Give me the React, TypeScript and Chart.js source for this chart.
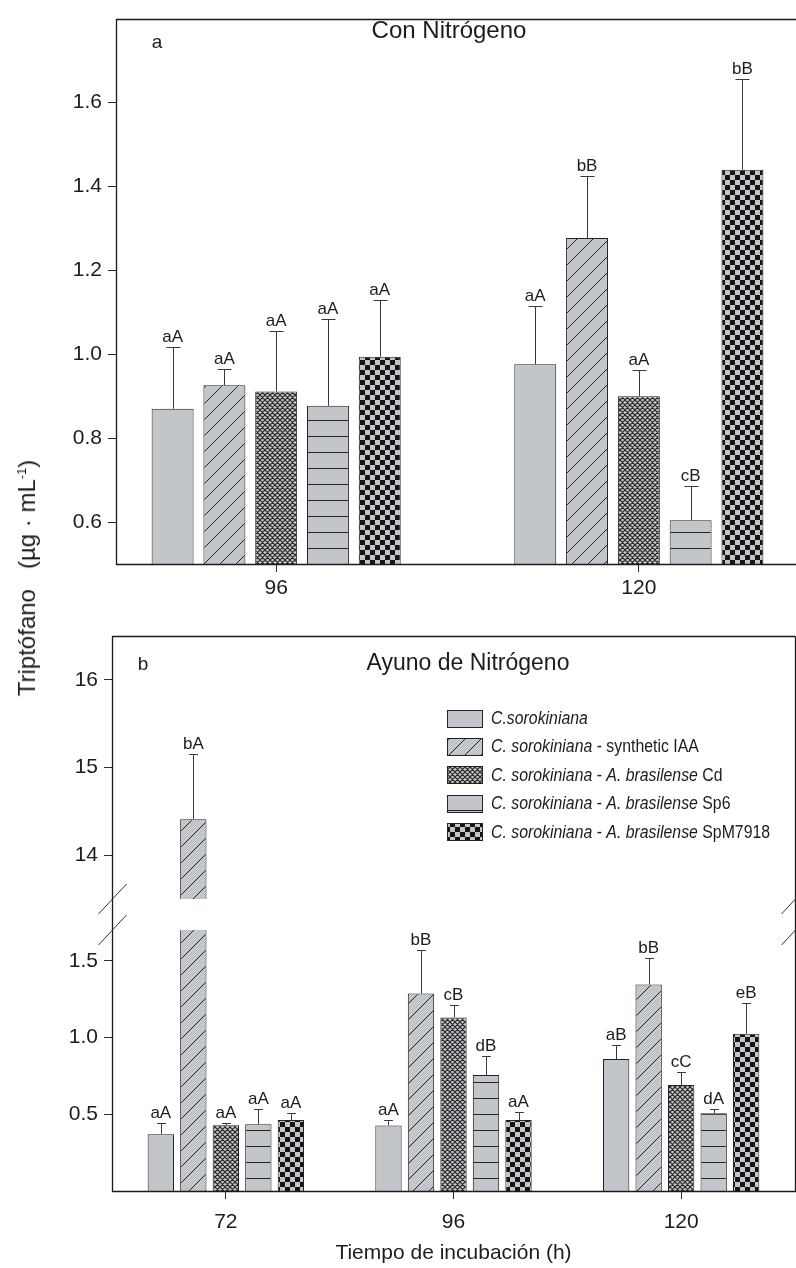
import React, { useEffect, useRef } from 'react';
import { Chart, registerables } from 'chart.js';

Chart.register(...registerables);

const FONT = '"Liberation Sans", Arial, Helvetica, sans-serif';
const INK = '#222222';
const TEXT = '#1c1c1c';
const FILL = '#c2c6cb';

// Treatments, in drawing order (same in both panels)
const treatmentNames = [
  'C.sorokiniana',
  'C. sorokiniana - synthetic IAA',
  'C. sorokiniana - A. brasilense Cd',
  'C. sorokiniana - A. brasilense Sp6',
  'C. sorokiniana - A. brasilense SpM7918',
];

// Legend entries as [text, italic] runs
const legendRuns: [string, boolean][][] = [
  [['C.sorokiniana', true]],
  [['C. sorokiniana', true], [' - synthetic IAA', false]],
  [['C. sorokiniana', true], [' - ', false], ['A. brasilense', true], [' Cd', false]],
  [['C. sorokiniana', true], [' - ', false], ['A. brasilense', true], [' Sp6', false]],
  [['C. sorokiniana', true], [' - ', false], ['A. brasilense', true], [' SpM7918', false]],
];

// ---------- Panel a: Con Nitrógeno (µg·mL-1) ----------
const hoursWithN = [96, 120];
const withN_sorokiniana = [0.87, 0.976];
const withN_sorokinianaErr = [0.148, 0.14];
const withN_sorokinianaSig = ['aA', 'aA'];
const withN_iaa = [0.926, 1.277];
const withN_iaaErr = [0.038, 0.147];
const withN_iaaSig = ['aA', 'bB'];
const withN_cd = [0.911, 0.9];
const withN_cdErr = [0.145, 0.062];
const withN_cdSig = ['aA', 'aA'];
const withN_sp6 = [0.877, 0.604];
const withN_sp6Err = [0.207, 0.082];
const withN_sp6Sig = ['aA', 'cB'];
const withN_spm = [0.994, 1.44];
const withN_spmErr = [0.135, 0.216];
const withN_spmSig = ['aA', 'bB'];
const withNTicks = [0.6, 0.8, 1.0, 1.2, 1.4, 1.6];

// ---------- Panel b: Ayuno de Nitrógeno (µg·mL-1) ----------
const hoursStarved = ['72', '96', '120'];
const starved_sorokiniana = [0.37, 0.427, 0.859];
const starved_sorokinianaErr = [0.071, 0.035, 0.095];
const starved_sorokinianaSig = ['aA', 'aA', 'aB'];
const starved_iaa = [14.41, 1.286, 1.345];
const starved_iaaErr = [0.74, 0.286, 0.175];
const starved_iaaSig = ['bA', 'bB', 'bB'];
const starved_cd = [0.429, 1.13, 0.69];
const starved_cdErr = [0.011, 0.08, 0.082];
const starved_cdSig = ['aA', 'cB', 'cC'];
const starved_sp6 = [0.434, 0.755, 0.507];
const starved_sp6Err = [0.097, 0.123, 0.024];
const starved_sp6Sig = ['aA', 'dB', 'dA'];
const starved_spm = [0.462, 0.462, 1.024];
const starved_spmErr = [0.047, 0.05, 0.201];
const starved_spmSig = ['aA', 'aA', 'eB'];
const starvedLowTicks = [0.5, 1.0, 1.5];
const starvedHighTicks = [14, 15, 16];

// broken value axis of panel b
const LOW_MIN = 0;
const LOW_MAX = 1.7;
const HIGH_MIN = 13.5;
const HIGH_MAX = 16.5;

// ---------- fills ----------
function makeTile(w: number, h: number, draw: (c: CanvasRenderingContext2D) => void) {
  const cv = document.createElement('canvas');
  cv.width = w;
  cv.height = h;
  const c = cv.getContext('2d') as CanvasRenderingContext2D;
  c.fillStyle = FILL;
  c.fillRect(0, 0, w, h);
  draw(c);
  return cv;
}

function makeFills(ctx: CanvasRenderingContext2D, lineRow: number): (string | CanvasPattern)[] {
  const diag = makeTile(16, 16, (c) => {
    c.strokeStyle = INK;
    c.lineWidth = 1;
    c.beginPath();
    for (const o of [-16, 0, 16]) {
      c.moveTo(o, 16);
      c.lineTo(o + 16, 0);
    }
    c.stroke();
  });
  const cross = makeTile(5, 5, (c) => {
    c.strokeStyle = '#262626';
    c.lineWidth = 1.15;
    c.beginPath();
    for (const o of [-5, 0, 5]) {
      c.moveTo(o, 0);
      c.lineTo(o + 5, 5);
      c.moveTo(o, 5);
      c.lineTo(o + 5, 0);
    }
    c.stroke();
  });
  const rows = makeTile(8, 16, (c) => {
    c.fillStyle = INK;
    c.fillRect(0, lineRow, 8, 1);
  });
  const checks = makeTile(10, 10, (c) => {
    c.fillStyle = '#141414';
    c.fillRect(0, 0, 5, 5);
    c.fillRect(5, 5, 5, 5);
  });
  return [
    FILL,
    ctx.createPattern(diag, 'repeat') as CanvasPattern,
    ctx.createPattern(cross, 'repeat') as CanvasPattern,
    ctx.createPattern(rows, 'repeat') as CanvasPattern,
    ctx.createPattern(checks, 'repeat') as CanvasPattern,
  ];
}

// ---------- text helper ----------
function drawText(
  ctx: CanvasRenderingContext2D,
  s: string,
  x: number,
  y: number,
  size: number,
  align: CanvasTextAlign = 'left',
  italic = false,
  squeeze = 1,
  baseline: CanvasTextBaseline = 'middle'
) {
  ctx.save();
  ctx.font = `${italic ? 'italic ' : ''}${size}px ${FONT}`;
  ctx.fillStyle = TEXT;
  ctx.textAlign = align;
  ctx.textBaseline = baseline;
  ctx.translate(x, y);
  ctx.scale(squeeze, 1);
  ctx.fillText(s, 0, 0);
  const w = ctx.measureText(s).width * squeeze;
  ctx.restore();
  return w;
}

// ---------- plugins ----------
// keeps every dataset inside the band of its own value axis (needed for the broken axis)
const clipToOwnAxis = {
  id: 'clipToOwnAxis',
  beforeDatasetDraw(chart: any, args: any) {
    const ys = chart.scales[args.meta.yAxisID];
    const a = chart.chartArea;
    chart.ctx.save();
    chart.ctx.beginPath();
    chart.ctx.rect(a.left, ys.top, a.right - a.left, ys.bottom - ys.top);
    chart.ctx.clip();
  },
  afterDatasetDraw(chart: any) {
    chart.ctx.restore();
  },
};

// upper error whisker and significance letters above each bar
const whiskersAndLetters = {
  id: 'whiskersAndLetters',
  afterDatasetsDraw(chart: any) {
    const ctx = chart.ctx as CanvasRenderingContext2D;
    chart.data.datasets.forEach((ds: any, di: number) => {
      const meta = chart.getDatasetMeta(di);
      const ys = chart.scales[meta.yAxisID];
      meta.data.forEach((bar: any, j: number) => {
        const parsed = meta.controller.getParsed(j);
        const v = parsed ? parsed.y : null;
        if (v == null || Number.isNaN(v) || v > ys.max || v < ys.min) return;
        const err = ds.errorPlus ? ds.errorPlus[j] || 0 : 0;
        const yBar = ys.getPixelForValue(v);
        const yCap = Math.round(ys.getPixelForValue(v + err)) + 0.5;
        const cx = Math.round(bar.x) + 0.5;
        const half = Math.max(4, bar.width * 0.167);
        ctx.save();
        ctx.strokeStyle = '#3a3a3a';
        ctx.lineWidth = 1;
        ctx.beginPath();
        ctx.moveTo(cx, yBar);
        ctx.lineTo(cx, yCap);
        ctx.moveTo(cx - half, yCap);
        ctx.lineTo(cx + half, yCap);
        ctx.stroke();
        ctx.restore();
        const sig = ds.groupLetters ? ds.groupLetters[j] : null;
        if (sig) drawText(ctx, sig, bar.x, yCap - 6, 17, 'center', false, 1, 'alphabetic');
      });
    });
  },
};

function frameLines(ctx: CanvasRenderingContext2D, a: any, right: boolean) {
  ctx.save();
  ctx.strokeStyle = '#1a1a1a';
  ctx.lineWidth = 1.3;
  ctx.beginPath();
  const l = Math.round(a.left) + 0.5;
  const t = Math.round(a.top) + 0.5;
  const b = Math.round(a.bottom) + 0.5;
  const r = Math.round(a.right) + 0.5;
  ctx.moveTo(r, t);
  ctx.lineTo(l, t);
  ctx.lineTo(l, b);
  ctx.lineTo(r, b);
  if (right) ctx.lineTo(r, t);
  ctx.stroke();
  ctx.restore();
}

function breakMarks(ctx: CanvasRenderingContext2D, x: number, ys: number[]) {
  ctx.save();
  ctx.strokeStyle = '#333';
  ctx.lineWidth = 1;
  ctx.beginPath();
  for (const y of ys) {
    ctx.moveTo(x - 14, y + 15);
    ctx.lineTo(x + 14, y - 15);
  }
  ctx.stroke();
  ctx.restore();
}

const tickFont = { family: FONT, size: 21 };

function buildWithN(canvas: HTMLCanvasElement) {
  const ctx = canvas.getContext('2d') as CanvasRenderingContext2D;
  const fills = makeFills(ctx, 4);
  const values = [withN_sorokiniana, withN_iaa, withN_cd, withN_sp6, withN_spm];
  const errs = [withN_sorokinianaErr, withN_iaaErr, withN_cdErr, withN_sp6Err, withN_spmErr];
  const sigs = [withN_sorokinianaSig, withN_iaaSig, withN_cdSig, withN_sp6Sig, withN_spmSig];

  const decor = {
    id: 'decorWithN',
    afterDraw(chart: any) {
      const c = chart.ctx as CanvasRenderingContext2D;
      frameLines(c, chart.chartArea, false);
      drawText(c, 'a', 157, 43, 19, 'center');
      drawText(c, 'Con Nitrógeno', 449, 31, 24, 'center');
    },
  };

  return new Chart(canvas, {
    type: 'bar',
    data: {
      datasets: values.map((vals, i) => ({
        label: treatmentNames[i],
        data: hoursWithN.map((h, j) => ({ x: h, y: vals[j] })),
        backgroundColor: fills[i],
        borderColor: INK,
        borderWidth: 1,
        categoryPercentage: 0.714,
        barPercentage: 0.81,
        errorPlus: errs[i],
        groupLetters: sigs[i],
      })) as any,
    },
    options: {
      animation: false,
      responsive: false,
      devicePixelRatio: 1,
      layout: { padding: { top: 12, right: 0, bottom: 0, left: 0 } },
      plugins: { legend: { display: false }, tooltip: { enabled: false } },
      scales: {
        x: {
          type: 'linear',
          offset: false,
          min: 85.4,
          max: 130.4,
          afterBuildTicks: (s: any) => {
            s.ticks = hoursWithN.map((v) => ({ value: v }));
          },
          afterFit: (s: any) => {
            s.height = 48;
          },
          ticks: { font: tickFont, color: TEXT, padding: 4, callback: (v: any) => String(v) },
          grid: { drawOnChartArea: false, tickLength: 8, color: '#2a2a2a', offset: false },
          border: { display: false },
        },
        y: {
          type: 'linear',
          min: 0.5,
          max: 1.8,
          beginAtZero: false,
          afterBuildTicks: (s: any) => {
            s.ticks = withNTicks.map((v) => ({ value: v }));
          },
          afterFit: (s: any) => {
            s.width = 116;
          },
          ticks: { font: tickFont, color: TEXT, padding: 6, callback: (v: any) => Number(v).toFixed(1) },
          grid: { drawOnChartArea: false, tickLength: 8, color: '#2a2a2a' },
          border: { display: false },
        },
      },
    } as any,
    plugins: [clipToOwnAxis, whiskersAndLetters, decor] as any,
  });
}

function buildStarved(canvas: HTMLCanvasElement) {
  const ctx = canvas.getContext('2d') as CanvasRenderingContext2D;
  const fills = makeFills(ctx, 6);
  const values = [starved_sorokiniana, starved_iaa, starved_cd, starved_sp6, starved_spm];
  const errs = [starved_sorokinianaErr, starved_iaaErr, starved_cdErr, starved_sp6Err, starved_spmErr];
  const sigs = [starved_sorokinianaSig, starved_iaaSig, starved_cdSig, starved_sp6Sig, starved_spmSig];

  const datasets: any[] = values.map((vals, i) => ({
    label: treatmentNames[i],
    data: vals,
    yAxisID: 'y',
    stack: 's' + i,
    backgroundColor: fills[i],
    borderColor: INK,
    borderWidth: 1,
    categoryPercentage: 0.714,
    barPercentage: 0.81,
    errorPlus: errs[i],
    groupLetters: sigs[i],
  }));
  // the part of the synthetic IAA bars that lies above the break
  datasets.push({
    label: treatmentNames[1],
    data: starved_iaa.map((v) => (v > LOW_MAX ? v : null)),
    yAxisID: 'yHigh',
    stack: 's1',
    backgroundColor: fills[1],
    borderColor: INK,
    borderWidth: 1,
    categoryPercentage: 0.714,
    barPercentage: 0.81,
    errorPlus: starved_iaaErr,
    groupLetters: starved_iaaSig,
  });

  const decor = {
    id: 'decorStarved',
    afterDraw(chart: any) {
      const c = chart.ctx as CanvasRenderingContext2D;
      const a = chart.chartArea;
      frameLines(c, a, true);
      const cuts = [chart.scales.yHigh.bottom, chart.scales.y.top];
      breakMarks(c, Math.round(a.left) + 0.5, cuts);
      breakMarks(c, Math.round(a.right) + 0.5, cuts);
      drawText(c, 'b', 143, 53, 19, 'center');
      drawText(c, 'Ayuno de Nitrógeno', 468, 52, 23, 'center');
      // legend
      legendRuns.forEach((runs, i) => {
        const cy = 106 + i * 28.4;
        const sx = 447;
        const sw = 35;
        const sh = 17;
        c.save();
        c.fillStyle = fills[i] as any;
        c.fillRect(sx, Math.round(cy - sh / 2), sw, sh);
        c.strokeStyle = INK;
        c.lineWidth = 1;
        c.strokeRect(sx + 0.5, Math.round(cy - sh / 2) + 0.5, sw, sh);
        c.restore();
        let x = 491;
        for (const [t, it] of runs) {
          x += drawText(c, t, x, cy + 1, 18, 'left', it, 0.88);
        }
      });
      drawText(c, 'Tiempo de incubación (h)', (a.left + a.right) / 2, 641, 21, 'center');
    },
  };

  return new Chart(canvas, {
    type: 'bar',
    data: { labels: hoursStarved, datasets },
    options: {
      animation: false,
      responsive: false,
      devicePixelRatio: 1,
      layout: { padding: { top: 24, right: 1, bottom: 0, left: 0 } },
      plugins: { legend: { display: false }, tooltip: { enabled: false } },
      scales: {
        x: {
          type: 'category',
          offset: true,
          afterFit: (s: any) => {
            s.height = 77;
          },
          ticks: { font: tickFont, color: TEXT, padding: 11 },
          grid: { drawOnChartArea: false, tickLength: 8, color: '#2a2a2a', offset: false },
          border: { display: false },
        },
        y: {
          type: 'linear',
          position: 'left',
          stack: 'value',
          stackWeight: 261,
          stacked: false,
          min: LOW_MIN,
          max: LOW_MAX,
          beginAtZero: false,
          afterBuildTicks: (s: any) => {
            s.ticks = starvedLowTicks.map((v) => ({ value: v }));
          },
          afterFit: (s: any) => {
            s.width = 112;
          },
          ticks: { font: tickFont, color: TEXT, padding: 6, callback: (v: any) => Number(v).toFixed(1) },
          grid: { drawOnChartArea: false, tickLength: 8, color: '#2a2a2a' },
          border: { display: false },
        },
        yGap: {
          type: 'linear',
          position: 'left',
          stack: 'value',
          stackWeight: 31,
          min: 0,
          max: 1,
          afterFit: (s: any) => {
            s.width = 112;
          },
          ticks: { display: false },
          grid: { display: false },
          border: { display: false },
        },
        yHigh: {
          type: 'linear',
          position: 'left',
          stack: 'value',
          stackWeight: 263,
          stacked: false,
          min: HIGH_MIN,
          max: HIGH_MAX,
          beginAtZero: false,
          afterBuildTicks: (s: any) => {
            s.ticks = starvedHighTicks.map((v) => ({ value: v }));
          },
          afterFit: (s: any) => {
            s.width = 112;
          },
          ticks: { font: tickFont, color: TEXT, padding: 6, callback: (v: any) => String(v) },
          grid: { drawOnChartArea: false, tickLength: 8, color: '#2a2a2a' },
          border: { display: false },
        },
      },
    } as any,
    plugins: [clipToOwnAxis, whiskersAndLetters, decor] as any,
  });
}

export default function App() {
  const refA = useRef<HTMLCanvasElement>(null);
  const refB = useRef<HTMLCanvasElement>(null);

  useEffect(() => {
    const a = buildWithN(refA.current as HTMLCanvasElement);
    const b = buildStarved(refB.current as HTMLCanvasElement);
    return () => {
      a.destroy();
      b.destroy();
    };
  }, []);

  return (
    <div
      style={{
        position: 'absolute',
        left: 0,
        top: 0,
        width: 796,
        height: 1268,
        overflow: 'hidden',
        background: '#ffffff',
      }}
    >
      <canvas
        ref={refA}
        width={796}
        height={612}
        style={{ position: 'absolute', left: 0, top: 0, width: 796, height: 612 }}
      />
      <canvas
        ref={refB}
        width={796}
        height={656}
        style={{ position: 'absolute', left: 0, top: 612, width: 796, height: 656 }}
      />
      <div
        style={{
          position: 'absolute',
          left: 27,
          top: 578,
          transform: 'translate(-50%, -50%) rotate(-90deg)',
          whiteSpace: 'nowrap',
          fontFamily: FONT,
          fontSize: 24,
          color: TEXT,
          lineHeight: 1,
        }}
      >
        Triptófano&nbsp;&nbsp;&nbsp;(µg · mL
        <sup style={{ fontSize: 13, verticalAlign: 'super' }}>-1</sup>)
      </div>
    </div>
  );
}
